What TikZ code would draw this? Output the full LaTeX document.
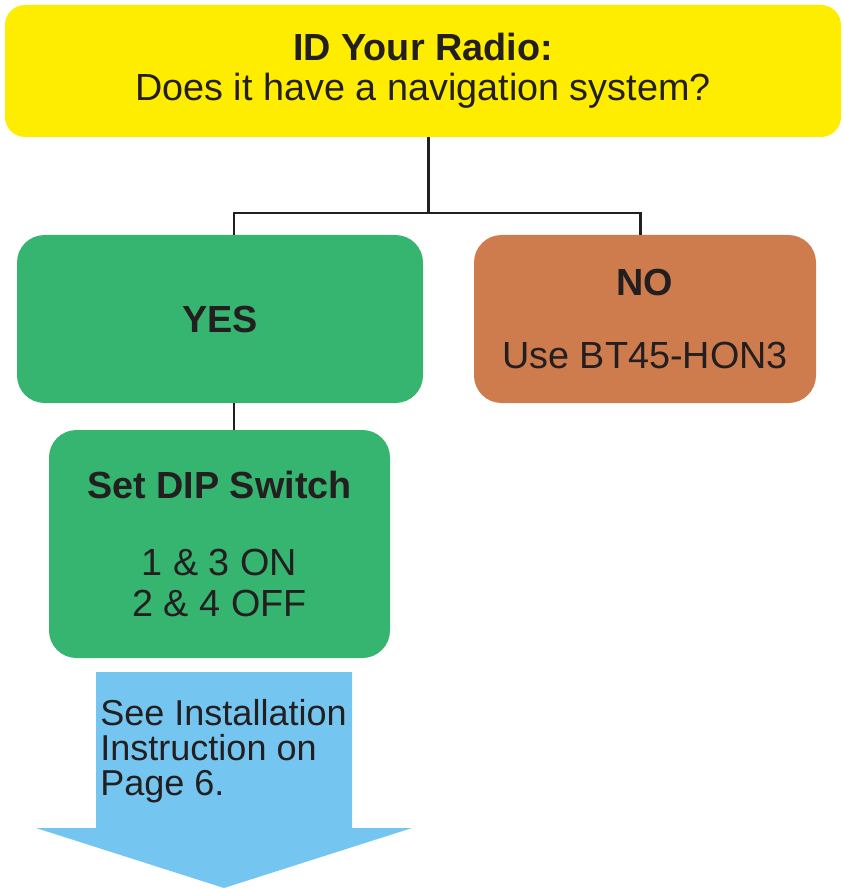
\documentclass[tikz,border=0pt]{standalone}
\usepackage{fontspec}
\setmainfont{Liberation Sans}
\usepackage{xcolor}
\usepackage{tikz}
\usetikzlibrary{calc}
\definecolor{ink}{HTML}{231F20}
\definecolor{yellowbox}{HTML}{FFED00}
\definecolor{greenbox}{HTML}{36B571}
\definecolor{orangebox}{HTML}{CE7C4E}
\definecolor{bluearrow}{HTML}{74C6F0}
\tikzset{
  box/.style={rounded corners=0.55cm, inner sep=0pt, align=center, text=ink,
    font=\fontsize{21.5}{23}\selectfont},
  conn/.style={draw=ink, line width=1.7pt},
  lbl/.style={text=ink, inner sep=0pt, align=left, font=\fontsize{20.5}{20}\selectfont}
}

\begin{document}
\begin{tikzpicture}
  \useasboundingbox (0,0) rectangle (16.86,-17.76);

  \node[box, rounded corners=0.4cm, fill=yellowbox, minimum width=16.72cm, minimum height=2.64cm]
    (radio) at (8.46,-1.42) {\textbf{ID Your Radio:}\\Does it have a navigation system?};
  \node[box, fill=greenbox, minimum width=8.12cm, minimum height=3.36cm]
    (yes) at (4.40,-6.38) {\textbf{YES}};
  \node[box, fill=orangebox, minimum width=6.84cm, minimum height=3.36cm]
    (no) at (12.90,-6.38) {\textbf{NO}\\[18pt]Use BT45-HON3};
  \node[box, fill=greenbox, minimum width=6.82cm, minimum height=4.56cm]
    (dip) at (4.39,-10.88) {\textbf{Set DIP Switch}\\[21pt]1 \& 3 ON\\2 \& 4 OFF};

  % tree lines
  \coordinate (split) at (8.56,-4.26);
  \coordinate (yestap) at (4.68,0);
  \coordinate (notap) at (12.80,0);
  \draw[conn] (split |- radio.south) -- (split);
  \draw[conn] (yestap |- yes.north) |- (split) -| (notap |- no.north);
  \draw[conn] (yestap |- yes.south) -- (yestap |- dip.north);

  % arrow to installation page
  \fill[bluearrow] (1.92,-13.44) -- (7.04,-13.44) -- (7.04,-16.56) -- (8.24,-16.56)
    -- (4.48,-17.76) -- (0.72,-16.56) -- (1.92,-16.56) -- cycle;
  \node[lbl, anchor=north west] (install) at (2.0,-13.98)
    {See Installation\\Instruction on\\Page 6.};
\end{tikzpicture}
\end{document}
